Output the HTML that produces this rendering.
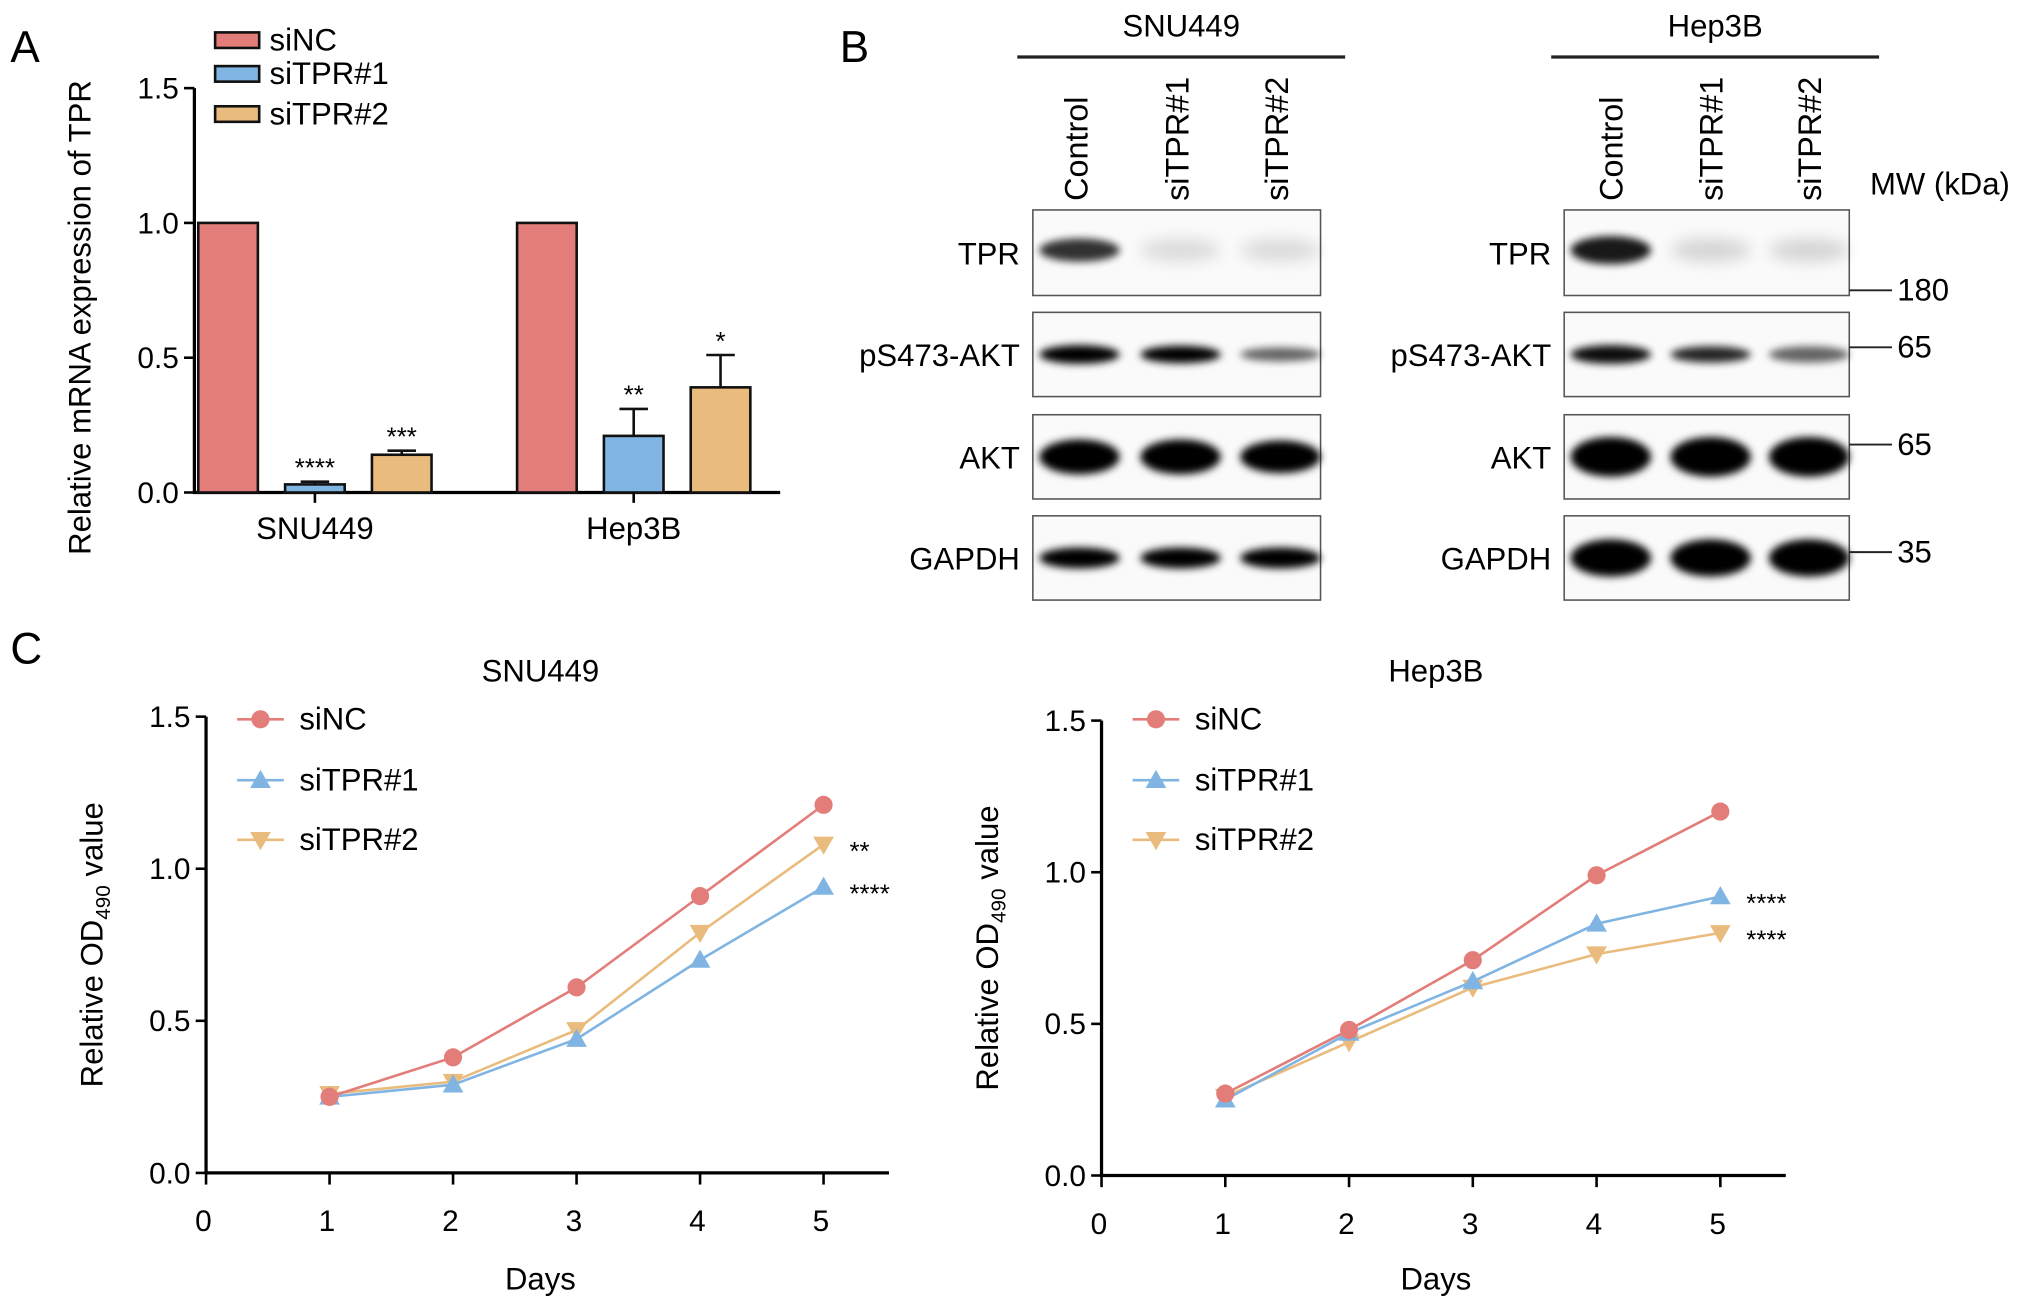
<!DOCTYPE html>
<html><head><meta charset="utf-8"><style>
html,body{margin:0;padding:0;background:#fff}
svg{display:block;font-family:"Liberation Sans",Arial,sans-serif}
</style></head><body>
<svg id="fig" width="2032" height="1309" viewBox="0 0 1568 1010" preserveAspectRatio="none" xmlns="http://www.w3.org/2000/svg">
<defs>
<filter id="blur" x="-20%" y="-50%" width="140%" height="200%"><feGaussianBlur stdDeviation="3"/></filter>
<filter id="blur2" x="-20%" y="-50%" width="140%" height="200%"><feGaussianBlur stdDeviation="6"/></filter>
</defs>
<text x="8" y="48" font-size="34">A</text>
<text x="648" y="48" font-size="34">B</text>
<text x="8" y="512" font-size="34">C</text>
<g id="barA"></g>
<g id="blots"></g>
<g id="lineL"></g>
<g id="lineR"></g>
</svg>
<script>
const NS="http://www.w3.org/2000/svg";
function mk(p,t,a,txt){const e=document.createElementNS(NS,t);for(const k in a)e.setAttribute(k,a[k]);if(txt!==undefined)e.textContent=txt;p.appendChild(e);return e;}
const RED="#e27d79",BLUE="#80b4e2",ORG="#e9bb7c";

// ---- Panel A data ----
const barGroups=["SNU449","Hep3B"];
const barSeries=["siNC","siTPR#1","siTPR#2"];
const barValues=[[1.0,0.03,0.14],[1.0,0.21,0.39]];
const barErrors=[[0,0.01,0.015],[0,0.1,0.12]];
const barStars=[["","****","***"],["","**","*"]];
const barTicks=[0,0.5,1.0,1.5];

(function(){
  const g=document.getElementById('barA');
  const y=v=>380-v*208;
  const axL=150,axR=602;
  mk(g,'line',{x1:axL,y1:y(1.5),x2:axL,y2:381,stroke:'#000','stroke-width':2.5});
  mk(g,'line',{x1:axL-1,y1:380,x2:axR,y2:380,stroke:'#000','stroke-width':2.5});
  barTicks.forEach(t=>{
    mk(g,'line',{x1:axL-8,y1:y(t),x2:axL,y2:y(t),stroke:'#000','stroke-width':2});
    const e=mk(g,'text',{x:axL-12,y:y(t)+8,'font-size':23,'text-anchor':'end'},t.toFixed(1));
    
  });
  const yt=mk(g,'text',{x:0,y:0,'font-size':24,'text-anchor':'middle',transform:'translate(70,245) rotate(-90)'},'Relative mRNA expression of TPR');
  
  const cols=[RED,BLUE,ORG];
  const groupStart=[153,399],step=67,bw=46;
  barGroups.forEach((gn,gi)=>{
    barValues[gi].forEach((v,si)=>{
      const x=groupStart[gi]+si*step;
      const r=mk(g,'rect',{x:x,y:y(v),width:bw,height:380-y(v),fill:cols[si],stroke:'#111','stroke-width':2});
      
      const er=barErrors[gi][si];
      if(er>0){
        const cx=x+bw/2;
        mk(g,'line',{x1:cx,y1:y(v),x2:cx,y2:y(v+er),stroke:'#111','stroke-width':2});
        mk(g,'line',{x1:cx-11,y1:y(v+er),x2:cx+11,y2:y(v+er),stroke:'#111','stroke-width':2});
      }
      if(barStars[gi][si]){
        const s=mk(g,'text',{x:x+bw/2,y:y(v+er)-4,'font-size':20,'text-anchor':'middle'},barStars[gi][si]);
        
      }
    });
    const cx=groupStart[gi]+step+bw/2;
    mk(g,'line',{x1:cx,y1:380,x2:cx,y2:388,stroke:'#000','stroke-width':2});
    const l=mk(g,'text',{x:cx,y:416,'font-size':24,'text-anchor':'middle'},gn);
    
  });
  const ly=[31,57,88];
  barSeries.forEach((s,i)=>{
    const r=mk(g,'rect',{x:166,y:ly[i]-6,width:34,height:12,fill:cols[i],stroke:'#111','stroke-width':2});
    
    const t=mk(g,'text',{x:208,y:ly[i]+8,'font-size':24},s);
    
  });
})();

// ---- Panel B blots ----
(function(){
  const g=document.getElementById('blots');
  const lanes=["Control","siTPR#1","siTPR#2"];
  const rows=[["TPR",162,228],["pS473-AKT",241,306],["AKT",320,385],["GAPDH",398,463]];
  const cells=[
    {name:"SNU449",x0:797,x1:1019,lx:[830,908,985],hx:[785,1038],
     bands:[[[0.8,1],[0.12,1],[0.12,1]],[[1,0.8],[1,0.75],[0.6,0.6]],[[1,1.5],[1,1.5],[1,1.4]],[[1,0.9],[1,0.9],[1,0.9]]]},
    {name:"Hep3B",x0:1207,x1:1427,lx:[1243,1320,1396],hx:[1197,1450],
     bands:[[[0.9,1.2],[0.15,1],[0.15,1]],[[0.95,0.8],[0.85,0.7],[0.6,0.7]],[[1,1.7],[1,1.7],[1,1.7]],[[1,1.6],[1,1.6],[1,1.6]]]}
  ];
  cells.forEach((c,ci)=>{
    mk(g,'line',{x1:c.hx[0],y1:44,x2:c.hx[1],y2:44,stroke:'#222','stroke-width':2.5});
    const h=mk(g,'text',{x:(c.hx[0]+c.hx[1])/2,y:28,'font-size':24,'text-anchor':'middle'},c.name);
    
    lanes.forEach((ln,li)=>{
      const t=mk(g,'text',{x:0,y:0,'font-size':25,transform:`translate(${c.lx[li]+9},155) rotate(-90)`},ln);
      
    });
    rows.forEach((r,ri)=>{
      const box=mk(g,'rect',{x:c.x0,y:r[1],width:c.x1-c.x0,height:r[2]-r[1],fill:'#fafafa',stroke:'#555','stroke-width':1.2});
      
      const l=mk(g,'text',{x:c.x0-10,y:(r[1]+r[2])/2+9,'font-size':24,'text-anchor':'end'},r[0]);
      
      const cy=(r[1]+r[2])/2;
      c.bands[ri].forEach((b,li)=>{
        const [dark,th]=b;
        const cx=c.lx[li]+(ci==0?3:0);
        mk(g,'ellipse',{cx:cx,cy:cy+(ri==0?-2:0),rx:31,ry:9*th,fill:'#000',opacity:dark,filter:ri==0&&dark<0.5?'url(#blur2)':'url(#blur)'});
      });
    });
  });
  const mw=mk(g,'text',{x:1443,y:150,'font-size':24},'MW (kDa)');
  
  [["180",224],["65",268],["65",343],["35",426]].forEach(m=>{
    mk(g,'line',{x1:1427,y1:m[1],x2:1460,y2:m[1],stroke:'#222','stroke-width':1.5});
    const t=mk(g,'text',{x:1464,y:m[1]+8,'font-size':24},m[0]);
    
  });
})();

// ---- Panel C data ----
const days=[1,2,3,4,5];
const lineSeries=["siNC","siTPR#1","siTPR#2"];
const snuNC=[0.25,0.38,0.61,0.91,1.21];
const snuT1=[0.25,0.29,0.44,0.70,0.94];
const snuT2=[0.26,0.30,0.47,0.79,1.08];
const hepNC=[0.27,0.48,0.71,0.99,1.20];
const hepT1=[0.25,0.47,0.64,0.83,0.92];
const hepT2=[0.26,0.44,0.62,0.73,0.80];
const xTicks=[0,1,2,3,4,5];
const yTicks=[0,0.5,1.0,1.5];
const snuStars=["","****","**"];
const hepStars=["","****","****"];

function lineChart(id,title,ax,data,stars){
  const g=document.getElementById(id);
  const x=d=>ax.x0+d*ax.dx, y=v=>ax.y0-v*ax.dy;
  mk(g,'line',{x1:ax.x0,y1:y(1.5),x2:ax.x0,y2:ax.y0+1,stroke:'#000','stroke-width':2.5});
  mk(g,'line',{x1:ax.x0-1,y1:ax.y0,x2:ax.xe,y2:ax.y0,stroke:'#000','stroke-width':2.5});
  yTicks.forEach(t=>{
    mk(g,'line',{x1:ax.x0-8,y1:y(t),x2:ax.x0,y2:y(t),stroke:'#000','stroke-width':2});
    const e=mk(g,'text',{x:ax.x0-12,y:y(t)+8,'font-size':23,'text-anchor':'end'},t.toFixed(1));
    
  });
  xTicks.forEach(t=>{
    mk(g,'line',{x1:x(t),y1:ax.y0,x2:x(t),y2:ax.y0+9,stroke:'#000','stroke-width':2});
    const e=mk(g,'text',{x:x(t)-2,y:ax.y0+45,'font-size':23,'text-anchor':'middle'},t);
    
  });
  const tt=mk(g,'text',{x:ax.tx,y:526,'font-size':24,'text-anchor':'middle'},title);
  
  const dx=mk(g,'text',{x:ax.tx,y:995,'font-size':24,'text-anchor':'middle'},'Days');
  
  const yt=mk(g,'text',{x:0,y:0,'font-size':24,'text-anchor':'middle',transform:`translate(${ax.x0-80},${y(0.75)}) rotate(-90)`});
  
  yt.innerHTML='Relative OD<tspan font-size="16" dy="6">490</tspan><tspan dy="-6"> value</tspan>';
  const cols=[RED,BLUE,ORG];
  function marker(i,cx,cy){
    if(i==0) return mk(g,'circle',{cx:cx,cy:cy,r:7,fill:RED});
    if(i==1) return mk(g,'polygon',{points:`${cx},${cy-8} ${cx-8},${cy+6} ${cx+8},${cy+6}`,fill:BLUE});
    return mk(g,'polygon',{points:`${cx},${cy+8} ${cx-8},${cy-6} ${cx+8},${cy-6}`,fill:ORG});
  }
  [2,1,0].forEach(i=>{
    const vals=data[i];
    const pl=mk(g,'polyline',{points:days.map((d,k)=>x(d)+','+y(vals[k])).join(' '),fill:'none',stroke:cols[i],'stroke-width':2});
    
    days.forEach((d,k)=>{
      const m=marker(i,x(d),y(vals[k]));
      
    });
    if(stars[i]){
      const s=mk(g,'text',{x:x(5)+20,y:y(vals[4])+12,'font-size':20},stars[i]);
      
    }
  });
  const ly=[555,602,648];
  lineSeries.forEach((s,i)=>{
    mk(g,'line',{x1:ax.x0+24,y1:ly[i],x2:ax.x0+60,y2:ly[i],stroke:cols[i],'stroke-width':2});
    marker(i,ax.x0+42,ly[i]);
    const t=mk(g,'text',{x:ax.x0+72,y:ly[i]+8,'font-size':24},s);
    
  });
}
lineChart('lineL','SNU449',{x0:159,dx:95.3,y0:905,dy:234.7,xe:686,tx:417},[snuNC,snuT1,snuT2],snuStars);
lineChart('lineR','Hep3B',{x0:850,dx:95.5,y0:907,dy:234,xe:1378,tx:1108},[hepNC,hepT1,hepT2],hepStars);
</script>
</body></html>
